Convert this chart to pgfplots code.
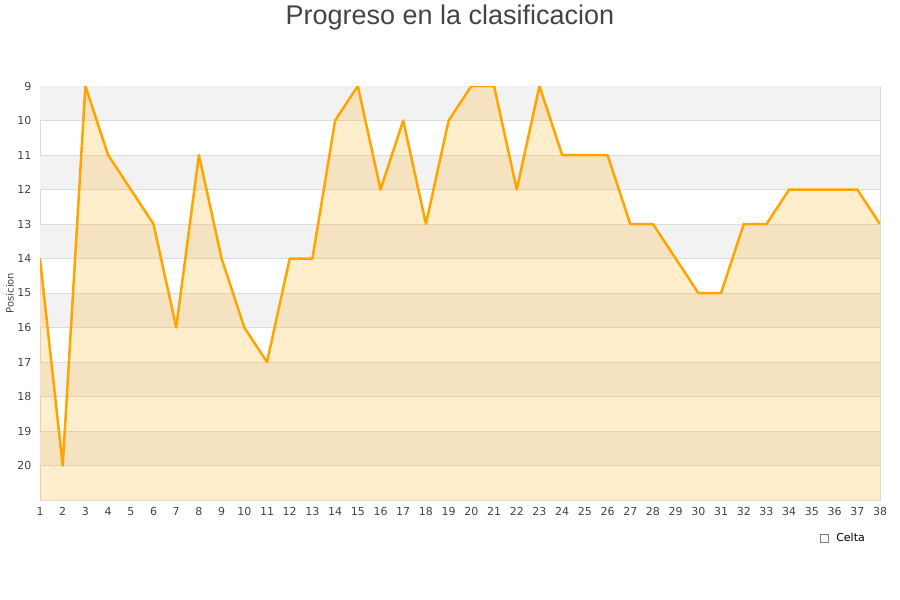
\documentclass[border=0pt]{standalone}
\usepackage{pgfplots}
\pgfplotsset{compat=1.18}
\usepackage{pgfplotstable}
\usepackage{fontspec}
\setmainfont{DejaVu Sans}
\newfontfamily\titlefont{Liberation Sans}
\definecolor{stripe}{HTML}{F2F2F2}
\definecolor{gridc}{HTML}{DCDCDC}
\definecolor{linec}{HTML}{FFA500}
\definecolor{txt}{HTML}{444444}

\pgfplotstableread{
x y
1 14
2 20
3 9
4 11
5 12
6 13
7 16
8 11
9 14
10 16
11 17
12 14
13 14
14 10
15 9
16 12
17 10
18 13
19 10
20 9
21 9
22 12
23 9
24 11
25 11
26 11
27 13
28 13
29 14
30 15
31 15
32 13
33 13
34 12
35 12
36 12
37 12
38 13
}\celta

\begin{document}
\begin{tikzpicture}
\path[use as bounding box] (0,0) rectangle (900pt,600pt);
\node[font=\titlefont\fontsize{27}{30}\selectfont, text=txt] at (450pt,582pt) {Progreso en la clasificacion};
\begin{axis}[
    at={(40pt,100pt)}, anchor=south west,
    scale only axis, width=840pt, height=414pt,
    xmin=1, xmax=38, ymin=9, ymax=21,
    y dir=reverse,
    xtick={1,...,38}, ytick={9,...,20},
    major tick length=0pt,
    axis line style={gridc, line width=0.8pt},
    tick label style={font=\fontsize{11}{12}\selectfont, text=txt},
    /pgf/number format/assume math mode=true,
    yticklabel style={xshift=-5pt},
    xticklabel style={yshift=-4pt},
    ylabel={Posicion},
    ylabel style={font=\fontsize{10}{12}\selectfont, text=txt, at={(axis description cs:-0.0357,0.5)}, anchor=center},
    legend style={draw=none, fill=none, at={(axis description cs:0.9245,-0.071)}, anchor=north west, font=\fontsize{11}{12}\selectfont},
    legend cell align=left,
]
\fill[stripe] (axis cs:1,9) rectangle (axis cs:38,10);
\fill[stripe] (axis cs:1,11) rectangle (axis cs:38,12);
\fill[stripe] (axis cs:1,13) rectangle (axis cs:38,14);
\fill[stripe] (axis cs:1,15) rectangle (axis cs:38,16);
\fill[stripe] (axis cs:1,17) rectangle (axis cs:38,18);
\fill[stripe] (axis cs:1,19) rectangle (axis cs:38,20);
\pgfplotsinvokeforeach{10,...,20}{\draw[gridc, line width=0.8pt] (axis cs:1,#1) -- (axis cs:38,#1);}
\addplot[draw=none, fill=linec, fill opacity=0.2,
    legend image code/.code={\draw[fill=linec!20, draw=gray, line width=0.5pt] (0pt,-4pt) rectangle (8pt,4pt);}]
    coordinates {(1,14) (2,20) (3,9) (4,11) (5,12) (6,13) (7,16) (8,11) (9,14) (10,16)
    (11,17) (12,14) (13,14) (14,10) (15,9) (16,12) (17,10) (18,13) (19,10) (20,9)
    (21,9) (22,12) (23,9) (24,11) (25,11) (26,11) (27,13) (28,13) (29,14) (30,15)
    (31,15) (32,13) (33,13) (34,12) (35,12) (36,12) (37,12) (38,13) (38,21) (1,21)};
\addlegendentry{\hspace{6pt}Celta}
\addplot[linec, line width=2.5pt, line join=round, forget plot] table[x=x, y=y] {\celta};
\end{axis}
\end{tikzpicture}
\end{document}
